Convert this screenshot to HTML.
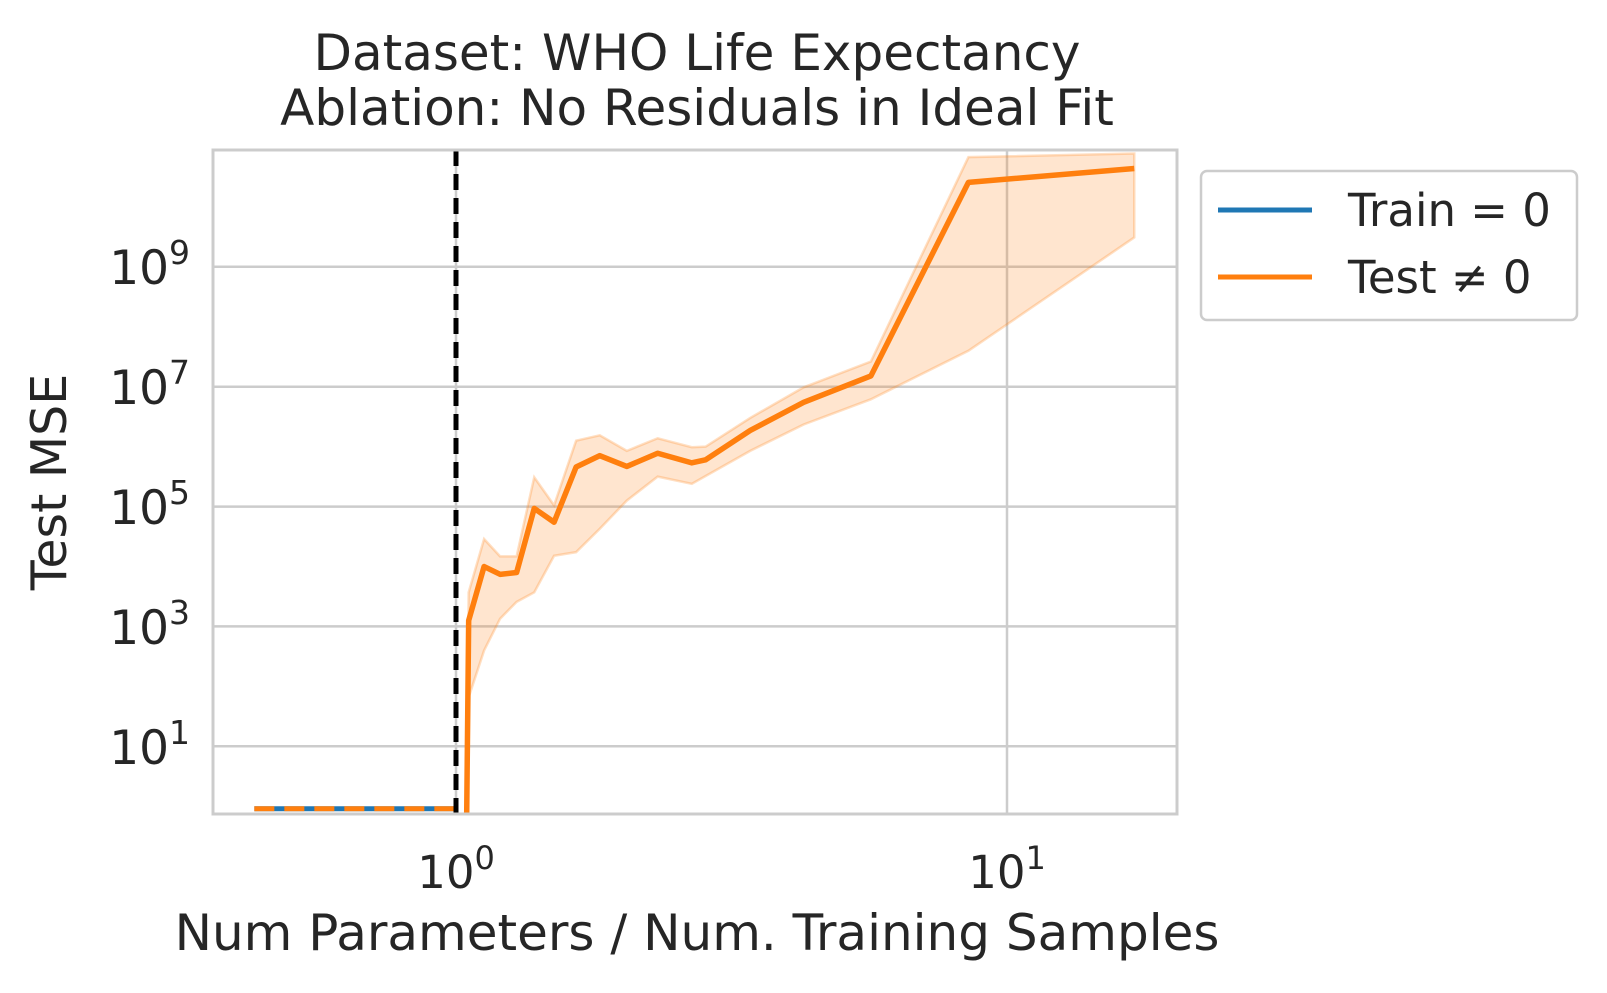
<!DOCTYPE html>
<html><head><meta charset="utf-8"><style>
html,body{margin:0;padding:0;background:#fff}
svg{display:block}
text{font-family:"DejaVu Sans","Liberation Sans",sans-serif;fill:#262626}
</style></head><body>
<svg width="1607" height="993" viewBox="0 0 1607 993" xmlns="http://www.w3.org/2000/svg">
<defs><clipPath id="c"><rect x="213" y="150" width="964" height="664"/></clipPath></defs>
<g stroke="#cccccc" stroke-width="2.5">
<line x1="213" x2="1177" y1="266.8" y2="266.8"/>
<line x1="213" x2="1177" y1="386.7" y2="386.7"/>
<line x1="213" x2="1177" y1="506.6" y2="506.6"/>
<line x1="213" x2="1177" y1="626.4" y2="626.4"/>
<line x1="213" x2="1177" y1="746.3" y2="746.3"/>
<line x1="456" x2="456" y1="150" y2="814"/>
<line x1="1007" x2="1007" y1="150" y2="814"/>
</g>
<g clip-path="url(#c)">
<g transform="matrix(551 0 0 -59.94 456 806.3)">
<polygon fill="#ff7f0e" fill-opacity="0.2" stroke="#ff7f0e" stroke-opacity="0.25" stroke-width="2.5" vector-effect="non-scaling-stroke"
points="0.019,-0.07 0.023,3.57 0.051,4.46 0.080,4.17 0.110,4.17 0.142,5.49 0.178,5.02 0.218,6.1 0.261,6.19 0.310,5.93 0.366,6.14 0.428,5.99 0.453,6.0 0.534,6.48 0.631,6.99 0.753,7.42 0.930,10.83 1.231,10.89 1.231,9.49 0.930,7.6 0.753,6.79 0.631,6.37 0.534,5.93 0.428,5.38 0.366,5.5 0.310,5.1 0.261,4.63 0.218,4.24 0.178,4.18 0.142,3.57 0.110,3.41 0.080,3.13 0.051,2.6 0.023,1.82 0.019,-0.07"/>
<polyline fill="none" stroke="#1f77b4" stroke-width="5" vector-effect="non-scaling-stroke" points="-0.366,-0.04 0,-0.04"/>
<polyline fill="none" stroke="#ff7f0e" stroke-width="5" stroke-dasharray="20,10" vector-effect="non-scaling-stroke" points="-0.366,-0.04 0,-0.04"/>
<polyline fill="none" stroke="#ff7f0e" stroke-width="5.5" stroke-linejoin="round" vector-effect="non-scaling-stroke"
points="0.019,-0.5 0.023,3.1 0.051,4.0 0.080,3.87 0.110,3.9 0.142,4.97 0.178,4.74 0.218,5.66 0.261,5.85 0.310,5.67 0.366,5.89 0.428,5.73 0.453,5.78 0.534,6.27 0.631,6.74 0.753,7.18 0.930,10.41 1.231,10.64"/>
</g>
<line x1="456" x2="456" y1="150" y2="814" stroke="#000" stroke-width="5" stroke-dasharray="16,8"/>
</g>
<rect x="213" y="150" width="964" height="664" fill="none" stroke="#cccccc" stroke-width="3"/>
<g font-size="47" text-anchor="end">
<text x="190" y="284">10<tspan font-size="33" dy="-20">9</tspan></text>
<text x="190" y="404">10<tspan font-size="33" dy="-20">7</tspan></text>
<text x="190" y="524">10<tspan font-size="33" dy="-20">5</tspan></text>
<text x="190" y="644">10<tspan font-size="33" dy="-20">3</tspan></text>
<text x="190" y="764">10<tspan font-size="33" dy="-20">1</tspan></text>
</g>
<g font-size="45" text-anchor="middle">
<text x="456" y="888">10<tspan font-size="32" dy="-19">0</tspan></text>
<text x="1007" y="888">10<tspan font-size="32" dy="-19">1</tspan></text>
</g>
<text x="697" y="950" font-size="50" text-anchor="middle">Num Parameters / Num. Training Samples</text>
<text transform="translate(66,482) rotate(-90)" font-size="49" text-anchor="middle">Test MSE</text>
<text x="697" y="70" font-size="50" text-anchor="middle">Dataset: WHO Life Expectancy</text>
<text x="697" y="125" font-size="50" text-anchor="middle">Ablation: No Residuals in Ideal Fit</text>
<rect x="1201" y="171" width="376" height="149" rx="6" fill="#fff" stroke="#cccccc" stroke-width="2.5"/>
<line x1="1218" x2="1312" y1="210" y2="210" stroke="#1f77b4" stroke-width="5"/>
<line x1="1218" x2="1312" y1="277" y2="277" stroke="#ff7f0e" stroke-width="5"/>
<text x="1348" y="226" font-size="45">Train = 0</text>
<text x="1348" y="293" font-size="45">Test ≠ 0</text>
</svg>
</body></html>
